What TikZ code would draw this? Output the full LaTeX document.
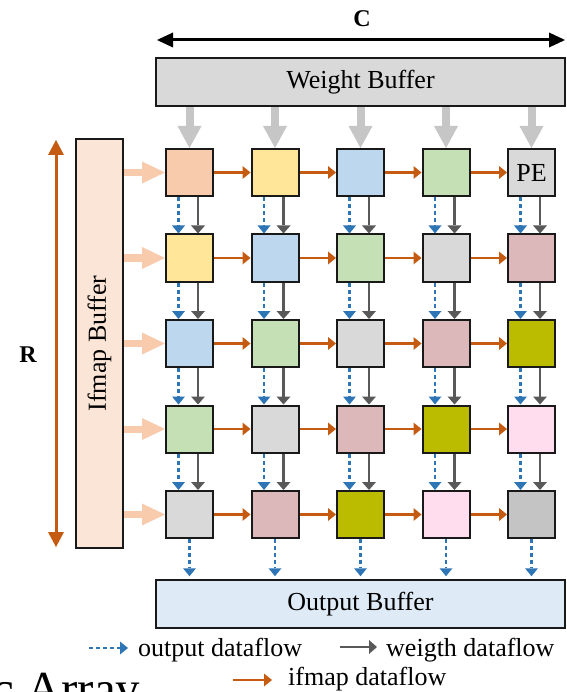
\documentclass[tikz,border=0pt]{standalone}
\usepackage{fontspec}
\setmainfont{Liberation Serif}
\usepackage{graphicx}
\usetikzlibrary{arrows.meta,calc}
\definecolor{ifo}{HTML}{C55A11}
\definecolor{ofb}{HTML}{2E75B6}
\definecolor{wgd}{HTML}{595959}
\definecolor{wgl}{HTML}{C6C6C6}
\definecolor{pch}{HTML}{F8CBAD}
\definecolor{wbfill}{HTML}{D9D9D9}
\definecolor{ibfill}{HTML}{FBE5D6}
\definecolor{obfill}{HTML}{DEEBF7}
\definecolor{c0}{HTML}{F8CBAD}
\definecolor{c1}{HTML}{FFE699}
\definecolor{c2}{HTML}{BDD7EE}
\definecolor{c3}{HTML}{C5E0B4}
\definecolor{c4}{HTML}{D9D9D9}
\definecolor{c5}{HTML}{DDB8BB}
\definecolor{c6}{HTML}{BBBB00}
\definecolor{c7}{HTML}{FFDDEE}
\definecolor{c8}{HTML}{C4C4C4}
\tikzset{
  every node/.style={font=\fontsize{26}{30}\selectfont},
  pe/.style={draw=black!90, line width=2pt, minimum size=47pt, inner sep=0pt},
  buf/.style={draw=black!90, line width=1.5pt, inner sep=0pt},
  ifarrow/.style={draw=ifo, line width=2.5pt, -{Triangle[width=13pt,length=8pt,line width=0pt]}},
  ofarrow/.style={draw=ofb, line width=2.5pt, dash pattern=on 4pt off 3pt, -{Triangle[width=13pt,length=8pt,line width=0pt]}},
  wgarrow/.style={draw=wgd, line width=2.5pt, -{Triangle[width=14pt,length=8pt,line width=0pt]}},
  wbarrow/.style={draw=wgl, line width=8pt, -{Triangle[width=24pt,length=22pt,line width=0pt]}},
  ibarrow/.style={draw=pch, line width=7pt, -{Triangle[width=22pt,length=23pt,line width=0pt]}},
}
\begin{document}
\begin{tikzpicture}[x=1pt,y=-1pt]
\useasboundingbox (0,0) rectangle (566,692);
% buffers
\node[buf, fill=wbfill, minimum width=409pt, minimum height=48pt] (wb) at (360.5,82) {Weight Buffer};
\node[buf, fill=obfill, minimum width=409pt, minimum height=48pt] (ob) at (360.5,604) {Output Buffer};
\node[buf, fill=ibfill, minimum width=47pt, minimum height=409pt] (ib) at (99.5,343.5) {\rotatebox{90}{Ifmap Buffer}};
% PEs
\foreach \r in {1,...,5}{\foreach \c in {1,...,5}{
  \pgfmathtruncatemacro{\k}{\r+\c-2}
  \node[pe, fill=c\k] (p\r\c) at ({189.5+(\c-1)*85.5},{172.5+(\r-1)*85.5}) {};
}}
\node[inner sep=0pt] (petext) at (p15.center) {PE};
% ifmap horizontal arrows
\foreach \r in {1,...,5}{\foreach \c [evaluate=\c as \n using int(\c+1)] in {1,...,4}{
  \draw[ifarrow] (p\r\c.east) -- (p\r\n.west);
}}
% vertical arrows
\foreach \r [evaluate=\r as \n using int(\r+1)] in {1,...,4}{\foreach \c in {1,...,5}{
  \draw[ofarrow] ([xshift=13.5pt]p\r\c.south west) -- ([xshift=13.5pt]p\n\c.north west);
  \draw[wgarrow] ([xshift=33pt]p\r\c.south west) -- ([xshift=33pt]p\n\c.north west);
}}
% weight buffer arrows
\foreach \c in {1,...,5}{\draw[wbarrow] (p1\c.north |- wb.south) -- (p1\c.north);}
% ifmap buffer arrows
\foreach \r in {1,...,5}{\draw[ibarrow] (ib.east |- p\r1.west) -- (p\r1.west);}
% output arrows
\foreach \c in {1,...,5}{\draw[ofarrow, shorten >=3pt] (p5\c.south) -- (p5\c.south |- ob.north);}
% C and R
\coordinate (cl) at (157,40);
\coordinate (cr) at (565,40);
\draw[line width=3pt, {Triangle[width=15pt,length=16pt,line width=0pt]}-{Triangle[width=15pt,length=16pt,line width=0pt]}] (cl) -- (cr);
\node[font=\fontsize{24}{28}\selectfont\bfseries] (clab) at (362,19) {C};
\coordinate (rt) at (56,140);
\coordinate (rb) at (56,547);
\draw[draw=ifo, line width=3pt, {Triangle[width=16pt,length=15pt,line width=0pt]}-{Triangle[width=16pt,length=15pt,line width=0pt]}] (rt) -- (rb);
\node[font=\fontsize{24}{28}\selectfont\bfseries] (rlab) at (28,355) {R};
% legend
\coordinate (l1a) at (89,648);
\coordinate (l1b) at (128,648);
\draw[ofarrow] (l1a) -- (l1b);
\node[anchor=base west, inner sep=0pt] (l1t) at (138,656) {output dataflow};
\coordinate (l2a) at (340,647);
\coordinate (l2b) at (377,647);
\draw[wgarrow] (l2a) -- (l2b);
\node[anchor=base west, inner sep=0pt] (l2t) at (386,656) {weigth dataflow};
\coordinate (l3a) at (233,680);
\coordinate (l3b) at (272,680);
\draw[ifarrow] (l3a) -- (l3b);
\node[anchor=base west, inner sep=0pt] (l3t) at (288,685.5) {ifmap dataflow};
% title fragment
\node[anchor=base west, inner sep=0pt, font=\fontsize{49}{55}\selectfont] (title) at (-8,705) {c Array};
\end{tikzpicture}
\end{document}
